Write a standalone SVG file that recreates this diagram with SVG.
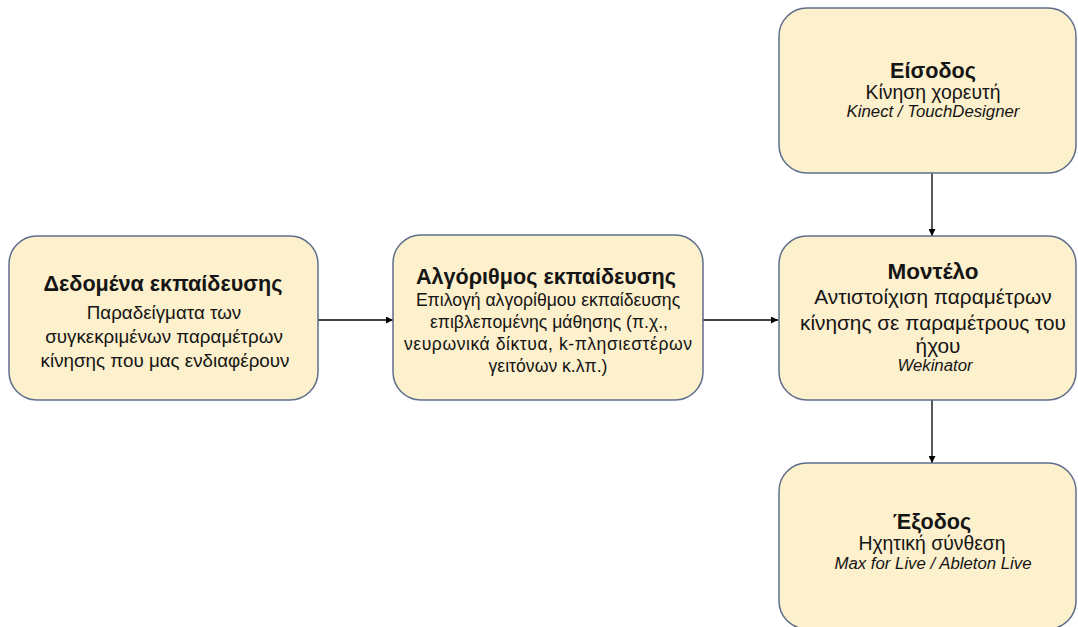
<svg xmlns="http://www.w3.org/2000/svg" width="1078" height="627" viewBox="0 0 1078 627">
  <style>
    .box { fill: #FDF0CC; stroke: #5E6F8C; stroke-width: 1.5; }
    text { font-family: "Liberation Sans", "DejaVu Sans", sans-serif; fill: #151515; text-anchor: middle; }
    .title { font-weight: bold; font-size: 21.6px; }
    .body { font-size: 18.8px; }
    .small { font-size: 17.6px; }
    .mid { font-size: 19.4px; }
    .large { font-size: 20.8px; }
    .it { font-style: italic; font-size: 16.8px; }
    .conn { stroke: #000; stroke-width: 1.3; fill: none; marker-end: url(#arrow); }
  </style>
  <defs>
    <marker id="arrow" viewBox="0 0 10 10" refX="10" refY="5" markerWidth="7" markerHeight="7" markerUnits="userSpaceOnUse" orient="auto">
      <path d="M0,0 L10,5 L0,10 z" fill="#000"/>
    </marker>
  </defs>

  <g id="connectors">
    <line class="conn" x1="318" y1="320" x2="393" y2="320"/>
    <line class="conn" x1="703" y1="320" x2="778" y2="320"/>
    <line class="conn" x1="932" y1="173" x2="932" y2="236"/>
    <line class="conn" x1="932" y1="400" x2="932" y2="463"/>
  </g>

  <g id="training-data">
    <rect class="box" x="9" y="236" width="309" height="164" rx="28"/>
    <text class="title" x="163" y="291">Δεδομένα εκπαίδευσης</text>
    <text class="body" x="164" y="319">Παραδείγματα των</text>
    <text class="body" x="164" y="343">συγκεκριμένων παραμέτρων</text>
    <text class="body" x="165" y="367">κίνησης που  μας ενδιαφέρουν</text>
  </g>

  <g id="training-algorithm">
    <rect class="box" x="393" y="235" width="310" height="165" rx="28"/>
    <text class="title" x="546" y="284">Αλγόριθμος εκπαίδευσης</text>
    <text class="small" x="548" y="306">Επιλογή αλγορίθμου εκπαίδευσης</text>
    <text class="small" x="549" y="328">επιβλεπομένης μάθησης (π.χ.,</text>
    <text class="small" x="548" y="350" textLength="288" lengthAdjust="spacing">νευρωνικά δίκτυα, k-πλησιεστέρων</text>
    <text class="small" x="548" y="372">γειτόνων κ.λπ.)</text>
  </g>

  <g id="input">
    <rect class="box" x="779" y="8" width="297" height="165" rx="28"/>
    <text class="title" x="933" y="78">Είσοδος</text>
    <text class="mid" x="933" y="99">Κίνηση χορευτή</text>
    <text class="it" x="933" y="117">Kinect / TouchDesigner</text>
  </g>

  <g id="model">
    <rect class="box" x="779" y="236" width="297" height="164" rx="28"/>
    <text class="title" x="933" y="279" style="font-size:22.5px">Μοντέλο</text>
    <text class="large" x="933" y="304">Αντιστοίχιση παραμέτρων</text>
    <text class="large" x="933" y="330">κίνησης σε παραμέτρους του</text>
    <text class="large" x="938" y="353">ήχου</text>
    <text class="it" x="935" y="371">Wekinator</text>
  </g>

  <g id="output">
    <rect class="box" x="779" y="463" width="297" height="166" rx="28"/>
    <text class="title" x="932" y="529">Έξοδος</text>
    <text class="mid" x="932" y="550">Ηχητική σύνθεση</text>
    <text class="it" x="933" y="569">Max for Live / Ableton Live</text>
  </g>
</svg>
